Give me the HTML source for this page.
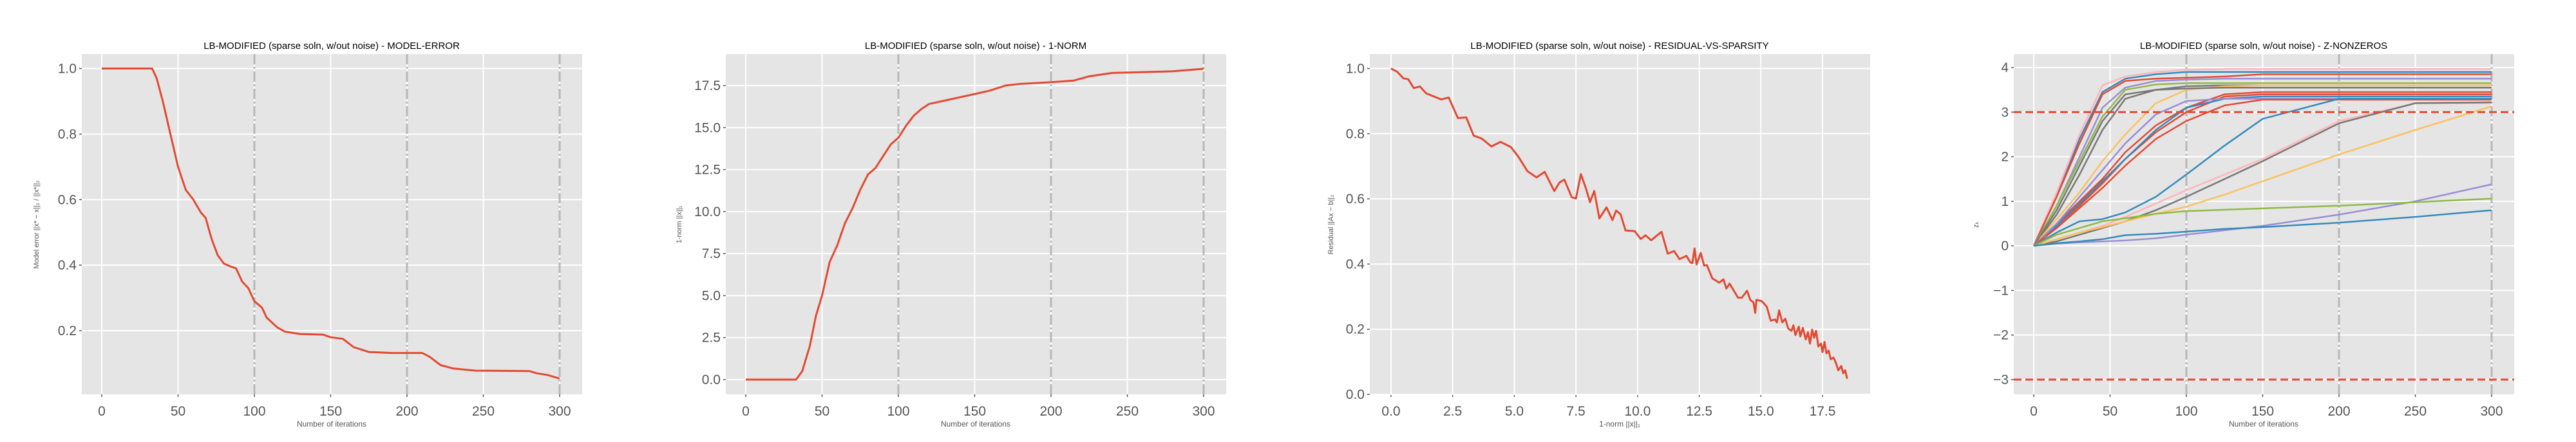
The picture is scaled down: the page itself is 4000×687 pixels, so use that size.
<!DOCTYPE html>
<html><head><meta charset="utf-8">
<style>
html,body{margin:0;padding:0;background:#fff;overflow:hidden;}
svg{display:block;}
text{font-family:"Liberation Sans",sans-serif;}
</style></head>
<body>
<svg id="chart" width="4000" height="687" viewBox="0 0 4000 687" xmlns="http://www.w3.org/2000/svg"></svg>
<script>
// ---------- data ----------
const iterErr = [0,33,36,40,45,50,55,60,65,68,72,76,80,85,88,92,96,100,105,108,115,120,130,145,150,158,165,175,190,210,215,222,230,245,280,285,292,300];
const modelErr = [1,1,0.97,0.9,0.8,0.7,0.63,0.6,0.56,0.545,0.48,0.43,0.405,0.395,0.39,0.35,0.33,0.29,0.27,0.24,0.21,0.197,0.19,0.188,0.18,0.175,0.15,0.135,0.132,0.132,0.12,0.095,0.085,0.078,0.077,0.07,0.065,0.054];
const iterNorm = [0,33,37,42,46,50,55,60,65,70,75,80,85,90,95,100,105,110,115,120,130,140,150,160,170,180,200,215,225,240,260,280,300];
const oneNorm = [0,0,0.5,2,3.8,5,7,8,9.3,10.2,11.3,12.2,12.6,13.3,14,14.4,15.1,15.7,16.1,16.4,16.6,16.8,17,17.2,17.5,17.6,17.7,17.8,18.05,18.25,18.3,18.35,18.5];
const resNorm = [0,0.25,0.5,0.7,0.92,1.17,1.42,2.04,2.34,2.71,3.05,3.35,3.68,4.07,4.44,4.86,5.16,5.53,5.9,6.23,6.62,6.83,7.03,7.33,7.5,7.7,7.9,8.07,8.24,8.45,8.74,8.98,9.13,9.31,9.51,9.88,10.13,10.32,10.55,10.97,11.22,11.48,11.7,11.98,12.14,12.22,12.31,12.39,12.56,12.7,12.81,13.03,13.31,13.48,13.6,13.73,14.07,14.23,14.44,14.57,14.7,14.77,14.82,15.04,15.24,15.4,15.57,15.65,15.74,15.87,15.99,16.11,16.24,16.32,16.4,16.54,16.6,16.7,16.82,16.91,16.99,17.08,17.16,17.24,17.33,17.44,17.5,17.58,17.66,17.75,17.83,17.95,18.05,18.14,18.26,18.34,18.42,18.5];
const residual = [1.0,0.99,0.97,0.967,0.94,0.945,0.924,0.905,0.911,0.848,0.85,0.794,0.785,0.761,0.775,0.759,0.73,0.685,0.666,0.683,0.624,0.65,0.659,0.605,0.601,0.676,0.633,0.59,0.624,0.54,0.574,0.535,0.564,0.553,0.503,0.501,0.477,0.488,0.473,0.499,0.432,0.44,0.415,0.425,0.405,0.403,0.448,0.399,0.434,0.395,0.397,0.356,0.343,0.353,0.325,0.34,0.297,0.297,0.318,0.29,0.282,0.25,0.29,0.286,0.269,0.226,0.23,0.221,0.258,0.221,0.232,0.202,0.195,0.212,0.182,0.208,0.178,0.204,0.169,0.191,0.156,0.199,0.174,0.195,0.147,0.156,0.13,0.161,0.126,0.134,0.108,0.113,0.095,0.074,0.087,0.065,0.074,0.048];
const zIters = [0,15,30,45,60,80,100,125,150,200,250,300];
const zSeries = [
 [0,1.2,2.5,3.6,3.8,3.9,3.95,3.97,3.97,3.97,3.97,3.97],
 [0,1.1,2.4,3.45,3.75,3.85,3.9,3.9,3.9,3.9,3.9,3.9],
 [0,1.1,2.3,3.4,3.7,3.75,3.77,3.8,3.85,3.85,3.85,3.85],
 [0,0.9,2.0,3.1,3.55,3.7,3.73,3.75,3.75,3.75,3.75,3.75],
 [0,0.9,1.9,2.9,3.5,3.62,3.65,3.65,3.65,3.65,3.65,3.65],
 [0,0.7,1.6,2.6,3.3,3.5,3.58,3.6,3.6,3.6,3.6,3.6],
 [0,0.6,1.2,1.9,2.5,3.2,3.5,3.58,3.6,3.6,3.6,3.6],
 [0,0.8,1.8,2.8,3.4,3.5,3.53,3.55,3.55,3.55,3.55,3.55],
 [0,0.5,1.0,1.5,2.1,2.7,3.1,3.4,3.45,3.45,3.45,3.45],
 [0,0.45,0.9,1.4,1.95,2.55,3.0,3.35,3.4,3.4,3.4,3.4],
 [0,0.45,0.95,1.45,1.95,2.6,3.1,3.3,3.35,3.35,3.35,3.35],
 [0,0.5,1.1,1.7,2.3,2.95,3.25,3.3,3.3,3.3,3.3,3.3],
 [0,0.4,0.85,1.3,1.8,2.4,2.8,3.15,3.28,3.28,3.28,3.28],
 [0,0.3,0.55,0.6,0.75,1.1,1.6,2.25,2.85,3.3,3.3,3.3],
 [0,0.15,0.3,0.45,0.65,0.95,1.25,1.6,1.95,2.8,3.2,3.2],
 [0,0.1,0.25,0.4,0.55,0.8,1.1,1.5,1.9,2.75,3.2,3.22],
 [0,0.15,0.3,0.42,0.55,0.72,0.88,1.15,1.45,2.05,2.6,3.13],
 [0,0.05,0.08,0.1,0.12,0.17,0.25,0.35,0.45,0.7,1.0,1.38],
 [0,0.25,0.4,0.55,0.62,0.72,0.78,0.81,0.84,0.9,0.98,1.06],
 [0,0.06,0.1,0.15,0.24,0.27,0.32,0.38,0.42,0.52,0.65,0.8]
];
const zColors = ['#FFB5B8','#348ABD','#E24A33','#988ED5','#8EBA42','#777777','#FBC15E','#777777','#E24A33','#E24A33','#348ABD','#988ED5','#E24A33','#348ABD','#FFB5B8','#777777','#FBC15E','#988ED5','#8EBA42','#348ABD'];
const iterTicks = [0,50,100,150,200,250,300];
const errTicks = [0.2,0.4,0.6,0.8,1.0];
const normTicks = [0,2.5,5,7.5,10,12.5,15,17.5];
const resXTicks = [0,2.5,5,7.5,10,12.5,15,17.5];
const resYTicks = [0,0.2,0.4,0.6,0.8,1.0];
const zTicks = [-3,-2,-1,0,1,2,3,4];
const vLines = [100,200,300];

// ---------- drawing ----------
const NS='http://www.w3.org/2000/svg';
const svg=document.getElementById('chart');
function mk(tag,attrs,parent){const e=document.createElementNS(NS,tag);for(const k in attrs)e.setAttribute(k,attrs[k]);(parent||svg).appendChild(e);return e;}
const L=127,R=904,T=84,B=613;

function panel(off,cfg){
  const g=mk('g',{});
  
  
  const xs=v=>off+cfg.x0px+(v-cfg.x0)/(cfg.x1-cfg.x0)*(cfg.x1px-cfg.x0px);
  const ys=v=>cfg.y0px+(v-cfg.y0)/(cfg.y1-cfg.y0)*(cfg.y1px-cfg.y0px);
  const bg=mk('rect',{x:off+L,y:T,width:R-L,height:B-T,fill:'#E5E5E5'},g);
  
  
  cfg.xt.forEach(v=>{
    mk('line',{x1:xs(v),x2:xs(v),y1:T,y2:B,stroke:'#fff','stroke-width':2},g);
    mk('line',{x1:xs(v),x2:xs(v),y1:B,y2:B+4,stroke:'#555','stroke-width':1.5},g);
    const t=mk('text',{x:xs(v),y:646,'font-size':21,fill:'#555','text-anchor':'middle'},g);
    t.textContent=cfg.xfmt(v);
    
    
  });
  cfg.yt.forEach(v=>{
    mk('line',{x1:off+L,x2:off+R,y1:ys(v),y2:ys(v),stroke:'#fff','stroke-width':2},g);
    mk('line',{x1:off+L-4,x2:off+L,y1:ys(v),y2:ys(v),stroke:'#555','stroke-width':1.5},g);
    const t=mk('text',{x:off+L-8,y:ys(v)+7,'font-size':21,fill:'#555','text-anchor':'end'},g);
    t.textContent=cfg.yfmt(v);
    
    
  });
  if(cfg.vlines) vLines.forEach(v=>{
    const l=mk('line',{x1:xs(v),x2:xs(v),y1:T,y2:B,stroke:'#B8B8B8','stroke-width':3,'stroke-dasharray':'16,4,3,4'},g);
    
    
  });
  const tt=mk('text',{x:off+515,y:76,'font-size':15,fill:'#000','text-anchor':'middle'},g);
  tt.textContent=cfg.title;
  
  
  const xl=mk('text',{x:off+515,y:663,'font-size':12,fill:'#555','text-anchor':'middle'},g);
  xl.textContent=cfg.xlabel;
  
  
  const yl=mk('text',{x:0,y:0,'font-size':11,fill:'#555','text-anchor':'middle',transform:`translate(${off+cfg.ylx},349) rotate(-90)`},g);
  yl.textContent=cfg.ylabel;
  
  
  return {g,xs,ys};
}
function line(p,X,Y,color,name,w){
  const d=X.map((x,i)=>(i?'L':'M')+p.xs(x).toFixed(1)+','+p.ys(Y[i]).toFixed(1)).join(' ');
  const e=mk('path',{d,fill:'none',stroke:color,'stroke-width':w||3,'stroke-linejoin':'round'},p.g);
  
  
}
const f1=v=>v.toFixed(1), f0=v=>String(v), fz=v=>v<0?'\u2212'+(-v):String(v);

// panel 1
let p=panel(0,{name:'model-error-panel',x0:0,x1:300,x0px:158,x1px:869,y0:1,y1:0.2,y0px:106.5,y1px:514,xt:iterTicks,yt:errTicks,xfmt:f0,yfmt:f1,vlines:true,title:'LB-MODIFIED (sparse soln, w/out noise) - MODEL-ERROR',xlabel:'Number of iterations',ylabel:'Model error ||x* − x||₂ / ||x*||₂',ylx:60});
line(p,iterErr,modelErr,'#E24A33','model-error-line');
// panel 2
p=panel(1000,{name:'one-norm-panel',x0:0,x1:300,x0px:158,x1px:869,y0:0,y1:17.5,y0px:590,y1px:133,xt:iterTicks,yt:normTicks,xfmt:f0,yfmt:f1,vlines:true,title:'LB-MODIFIED (sparse soln, w/out noise) - 1-NORM',xlabel:'Number of iterations',ylabel:'1-norm ||x||₁',ylx:58});
line(p,iterNorm,oneNorm,'#E24A33','one-norm-line');
// panel 3
p=panel(2000,{name:'residual-vs-sparsity-panel',x0:0,x1:17.5,x0px:160,x1px:830,y0:1,y1:0,y0px:106.5,y1px:613,xt:resXTicks,yt:resYTicks,xfmt:f1,yfmt:f1,vlines:false,title:'LB-MODIFIED (sparse soln, w/out noise) - RESIDUAL-VS-SPARSITY',xlabel:'1-norm ||x||₁',ylabel:'Residual ||Ax − b||₂',ylx:70});
line(p,resNorm,residual,'#E24A33','residual-line');
// panel 4
p=panel(3000,{name:'z-nonzeros-panel',x0:0,x1:300,x0px:158,x1px:869,y0:4,y1:-3,y0px:105,y1px:590,xt:iterTicks,yt:zTicks,xfmt:f0,yfmt:fz,vlines:true,title:'LB-MODIFIED (sparse soln, w/out noise) - Z-NONZEROS',xlabel:'Number of iterations',ylabel:'zₖ',ylx:72});
zSeries.forEach((s,i)=>line(p,zIters,s,zColors[i],'z-series-'+(i+1),2.5));
[3,-3].forEach(v=>{
  const l=mk('line',{x1:3000+L,x2:3000+R,y1:p.ys(v),y2:p.ys(v),stroke:'#E24A33','stroke-width':3,'stroke-dasharray':'12,6'},p.g);
  
  
});
</script>
</body></html>
